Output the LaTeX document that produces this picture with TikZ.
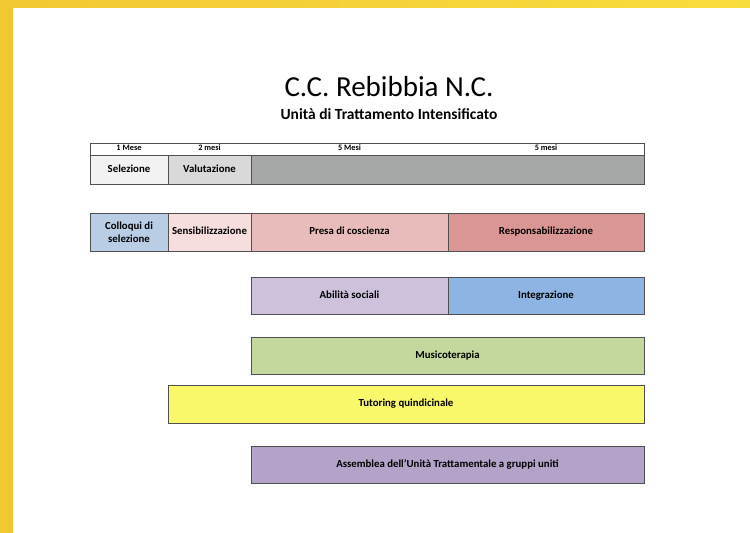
\documentclass[tikz,border=0pt]{standalone}
\usepackage{fontspec}
\setmainfont{Carlito}
\definecolor{yelA}{HTML}{F2C832}
\definecolor{yelB}{HTML}{F8DD3E}
\definecolor{bord}{HTML}{505050}
\definecolor{cSel}{HTML}{F2F2F2}
\definecolor{cVal}{HTML}{D9D9D9}
\definecolor{cGray}{HTML}{A6A8A8}
\definecolor{cColl}{HTML}{B9CDE5}
\definecolor{cSens}{HTML}{F5DEDD}
\definecolor{cPresa}{HTML}{E8BCBB}
\definecolor{cResp}{HTML}{DA9694}
\definecolor{cAbil}{HTML}{CDC1DB}
\definecolor{cInt}{HTML}{8DB4E2}
\definecolor{cMus}{HTML}{C4D79C}
\definecolor{cTut}{HTML}{F8F86A}
\definecolor{cAss}{HTML}{B3A3C8}
\tikzset{
  bar/.style={draw=bord, line width=0.7pt, anchor=north west, inner sep=0pt, outer sep=0pt,
    font=\fontsize{10.8}{12.5}\selectfont\bfseries, align=center, text=black},
  oneline/.style={text height=7.6pt, text depth=2.6pt},
  hdr/.style={anchor=center, inner sep=0pt, text height=5.8pt, text depth=2pt,
    font=\fontsize{8.3}{9}\selectfont\bfseries},
}
\begin{document}
\begin{tikzpicture}[x=1pt,y=-1pt]
\useasboundingbox (0,0) rectangle (750,533);
\fill[white] (0,0) rectangle (750,533);
\shade[left color=yelA, right color=yelB] (0,0) rectangle (750,7);
\fill[yelA] (0,0) rectangle (13,533);

\node[font=\fontsize{29}{32}\selectfont] (title) at (389,87) {C.C. Rebibbia N.C.};
\node[font=\fontsize{15.5}{17}\selectfont\bfseries] (sub) at (389,114) {Unità di Trattamento Intensificato};

% header row
\node[bar, minimum width=554pt, minimum height=12pt] (hrow) at (90,143) {};
\node[hdr] (h1) at (129,149) {1 Mese};
\node[hdr] (h2) at (209.5,149) {2 mesi};
\node[hdr] (h3) at (349.5,149) {5 Mesi};
\node[hdr] (h4) at (546,149) {5 mesi};

% row 1
\node[bar, oneline, fill=cSel, minimum width=78pt, minimum height=29pt] (sel) at (90,155) {Selezione};
\node[bar, oneline, fill=cVal, minimum width=83pt, minimum height=29pt] (val) at (168,155) {Valutazione};
\node[bar, fill=cGray, minimum width=393pt, minimum height=29pt] (gray) at (251,155) {};

% row 2
\node[bar, fill=cColl, minimum width=78pt, minimum height=38pt] (coll) at (90,213) {Colloqui di\\selezione};
\node[bar, oneline, fill=cSens, minimum width=83pt, minimum height=38pt] (sens) at (168,213) {Sensibilizzazione};
\node[bar, oneline, fill=cPresa, minimum width=197pt, minimum height=38pt] (presa) at (251,213) {Presa di coscienza};
\node[bar, oneline, fill=cResp, minimum width=196pt, minimum height=38pt] (resp) at (448,213) {Responsabilizzazione};

% row 3
\node[bar, oneline, fill=cAbil, minimum width=197pt, minimum height=37pt] (abil) at (251,277) {Abilità sociali};
\node[bar, oneline, fill=cInt, minimum width=196pt, minimum height=37pt] (integ) at (448,277) {Integrazione};

% row 4
\node[bar, oneline, fill=cMus, minimum width=393pt, minimum height=37pt] (mus) at (251,337) {Musicoterapia};

% row 5
\node[bar, oneline, fill=cTut, minimum width=476pt, minimum height=38pt] (tut) at (168,385) {Tutoring quindicinale};

% row 6
\node[bar, oneline, fill=cAss, minimum width=393pt, minimum height=37pt] (ass) at (251,446) {Assemblea dell’Unità Trattamentale a gruppi uniti};
\end{tikzpicture}
\end{document}
